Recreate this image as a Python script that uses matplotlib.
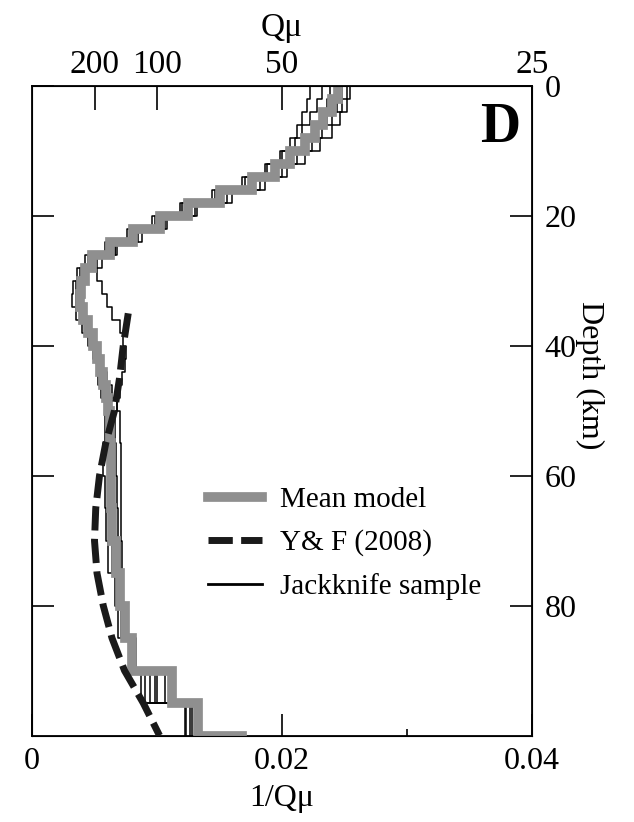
import numpy as np
import matplotlib
matplotlib.use('Agg')
import matplotlib.pyplot as plt

plt.rcParams['font.family'] = ['Liberation Serif', 'DejaVu Serif']

# layer tops (km) of the staircase models, last entry is the model bottom
layer_depth = [0, 2, 4, 6, 8, 10, 12, 14, 16, 18, 20, 22, 24, 26, 28, 30, 32, 34, 36, 38,
               40, 42, 44, 46, 48, 50, 55, 60, 65, 70, 75, 80, 85, 90, 95, 100]

mean_model = [0.0245, 0.0240, 0.0233, 0.0226, 0.0218, 0.0206, 0.0194, 0.0176, 0.0150, 0.0125,
              0.0102, 0.0081, 0.0062, 0.0048, 0.0042, 0.0039, 0.0038, 0.0041, 0.0045, 0.0049,
              0.0052, 0.0054, 0.0057, 0.0059, 0.0061, 0.0062, 0.0063, 0.0063, 0.0064, 0.0067,
              0.0070, 0.0074, 0.0080, 0.0112, 0.0133]
mean_halfspace = 0.0168

jack_1 = [0.0252, 0.0248, 0.0240, 0.0232, 0.0224, 0.0212, 0.0200, 0.0182, 0.0156, 0.0130,
          0.0106, 0.0085, 0.0066, 0.0052, 0.0045, 0.0041, 0.0040, 0.0043, 0.0047, 0.0050,
          0.0053, 0.0056, 0.0060, 0.0064, 0.0068, 0.0070, 0.0071, 0.0071, 0.0071, 0.0072,
          0.0073, 0.0075, 0.0083, 0.0106, 0.0128]
jack_2 = [0.0232, 0.0228, 0.0222, 0.0216, 0.0210, 0.0200, 0.0188, 0.0170, 0.0146, 0.0120,
          0.0096, 0.0076, 0.0058, 0.0042, 0.0036, 0.0033, 0.0032, 0.0035, 0.0040, 0.0045,
          0.0049, 0.0052, 0.0053, 0.0055, 0.0058, 0.0058, 0.0057, 0.0058, 0.0059, 0.0061,
          0.0066, 0.0073, 0.0079, 0.0098, 0.0123]
jack_3 = [0.0248, 0.0244, 0.0236, 0.0229, 0.0221, 0.0209, 0.0196, 0.0178, 0.0152, 0.0126,
          0.0104, 0.0084, 0.0066, 0.0056, 0.0052, 0.0056, 0.0060, 0.0064, 0.0070, 0.0073,
          0.0075, 0.0074, 0.0072, 0.0070, 0.0068, 0.0066, 0.0067, 0.0068, 0.0069, 0.0070,
          0.0072, 0.0074, 0.0078, 0.0100, 0.0126]
jack_4 = [0.0222, 0.0220, 0.0216, 0.0212, 0.0206, 0.0198, 0.0186, 0.0168, 0.0144, 0.0118,
          0.0098, 0.0078, 0.0060, 0.0046, 0.0038, 0.0035, 0.0036, 0.0039, 0.0043, 0.0047,
          0.0050, 0.0052, 0.0054, 0.0056, 0.0058, 0.0062, 0.0064, 0.0065, 0.0066, 0.0067,
          0.0069, 0.0072, 0.0080, 0.0094, 0.0132]
jack_5 = [0.0254, 0.0252, 0.0246, 0.0240, 0.0230, 0.0218, 0.0204, 0.0186, 0.0160, 0.0132,
          0.0108, 0.0088, 0.0068, 0.0050, 0.0043, 0.0040, 0.0039, 0.0042, 0.0046, 0.0050,
          0.0053, 0.0055, 0.0057, 0.0059, 0.0060, 0.0060, 0.0061, 0.0062, 0.0063, 0.0064,
          0.0067, 0.0071, 0.0081, 0.0090, 0.0122]
jack_6 = [0.0238, 0.0236, 0.0230, 0.0224, 0.0216, 0.0204, 0.0192, 0.0174, 0.0148, 0.0122,
          0.0100, 0.0080, 0.0062, 0.0045, 0.0039, 0.0036, 0.0035, 0.0038, 0.0042, 0.0046,
          0.0050, 0.0053, 0.0056, 0.0058, 0.0060, 0.0061, 0.0062, 0.0062, 0.0063, 0.0064,
          0.0067, 0.0069, 0.0078, 0.0087, 0.0130]
jackknife = [jack_1, jack_2, jack_3, jack_4, jack_5, jack_6]

# Yang & Forsyth (2008) model
yf_depth = [35, 40, 45, 50, 55, 60, 65, 70, 75, 80, 85, 90, 95, 100]
yf_invq = [0.0077, 0.0073, 0.0070, 0.0066, 0.0059, 0.0054, 0.0051, 0.0050, 0.0052, 0.0057,
           0.0064, 0.0074, 0.0089, 0.0102]

q_ticks = [200, 100, 50, 25]


def staircase(values, depths):
    # each layer drawn as a vertical segment from its top to its bottom
    d = np.array(depths, dtype=float)
    v = np.array(values, dtype=float)
    ys = np.column_stack([d[:-1], d[1:]]).ravel()
    xs = np.repeat(v, 2)
    return xs, ys


fig = plt.figure(figsize=(6.34, 8.22), dpi=100)
ax = fig.add_axes([32 / 634, 1 - 735.5 / 822, 500 / 634, 649.5 / 822])

for jk in jackknife:
    xs, ys = staircase(jk, layer_depth)
    ax.plot(xs, ys, color='black', lw=1.1, zorder=2)

xs, ys = staircase(mean_model, layer_depth)
xs = np.append(xs, mean_halfspace)
ys = np.append(ys, layer_depth[-1])
ax.plot(xs, ys, color='#8f8f8f', lw=7, solid_joinstyle='miter', zorder=3,
        label='Mean model')

ax.plot(yf_invq, yf_depth, color='#1a1a1a', lw=5, dashes=(3.5, 1.2), zorder=4,
        label='Y& F (2008)')

ax.plot([], [], color='black', lw=2, label='Jackknife sample')

ax.set_xlim(0, 0.04)
ax.set_ylim(100, 0)
ax.set_xticks([0, 0.02, 0.04])
ax.set_xticklabels(['0', '0.02', '0.04'])
ax.set_xticks([0.01, 0.03], minor=True)
ax.set_yticks([0, 20, 40, 60, 80])
ax.tick_params(axis='x', which='major', direction='in', length=16, width=1.2,
               labelsize=23, pad=8)
ax.tick_params(axis='x', which='minor', direction='in', length=5, width=1.2)
ax.tick_params(axis='y', direction='in', left=True, right=True, labelleft=False,
               labelright=True, length=16, width=1.2, labelsize=23, pad=9)
ax.set_xlabel('1/Q\u03bc', fontsize=23, labelpad=6)
ax.yaxis.set_label_position('right')
ax.set_ylabel('Depth (km)', fontsize=23, rotation=270, va='center')
ax.yaxis.set_label_coords(1.116, 0.555)
for sp in ax.spines.values():
    sp.set_linewidth(1.3)

top = ax.twiny()
top.set_xlim(ax.get_xlim())
top.set_xticks([1.0 / q for q in q_ticks])
top.set_xticklabels([str(q) for q in q_ticks])
top.tick_params(axis='x', direction='in', length=17, width=1.2, labelsize=24, pad=4)
top.set_xlabel('Q\u03bc', fontsize=24, labelpad=10)

ax.text(0.976, 0.935, 'D', transform=ax.transAxes, fontsize=40, fontweight='bold',
        ha='right', va='center')

ax.legend(loc='upper left', bbox_to_anchor=(0.352, 0.383), frameon=False,
          fontsize=21, handlelength=1.85, handletextpad=0.62, labelspacing=0.56,
          borderpad=0, borderaxespad=0)

fig.savefig('out.png', dpi=100)
